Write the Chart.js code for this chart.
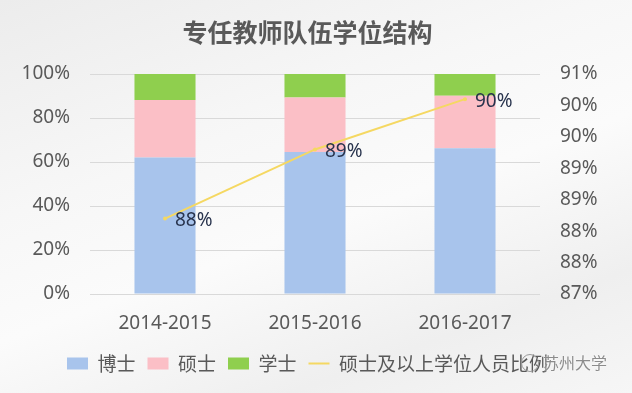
<!DOCTYPE html>
<html>
<head>
<meta charset="utf-8">
<script src="https://cdn.jsdelivr.net/npm/chart.js@4/dist/chart.umd.min.js"></script>
<style>
  html, body { margin: 0; padding: 0; }
  body {
    width: 632px; height: 393px; overflow: hidden; position: relative;
    background: linear-gradient(160deg, #ececec 0%, #f7f7f7 35%, #fbfbfb 55%, #efefef 80%, #f6f6f6 100%);
  }
  #wrap { position: absolute; left: 0; top: 0; width: 632px; height: 393px; }
  #wm {
    position: absolute; left: 521px; top: 351px; height: 22px;
    font-family: "Noto Sans CJK SC", sans-serif; font-size: 16px; line-height: 22px;
    color: #8c8c8c; text-shadow: 0 0 2px #fff; white-space: nowrap;
  }
  #wm .logo {
    display: inline-block; width: 16px; height: 16px; border: 1.5px solid #9a9a9a;
    border-radius: 50%; vertical-align: middle; margin-right: 4px; margin-top: -3px;
  }
</style>
</head>
<body>
<div id="wrap"><canvas id="c" width="632" height="393"></canvas></div>
<div id="wm"><span class="logo"></span>苏州大学</div>
<script>
const categories = ['2014-2015', '2015-2016', '2016-2017'];
const doctor   = [62.1, 64.6, 66.3];   // 博士
const master   = [26.1, 24.7, 23.8];   // 硕士
const bachelor = [11.8, 10.7, 9.9];    // 学士
const ratio    = [88.2, 89.3, 90.1];   // 硕士及以上学位人员比例
const leftTicks  = [0, 20, 40, 60, 80, 100];
const rightMin = 87, rightMax = 90.5, rightStep = 0.5;

const FONT = '"Noto Sans", "Noto Sans CJK SC", sans-serif';
const GREY = '#595959';

const lineLabels = {
  id: 'lineLabels',
  afterDatasetsDraw(chart) {
    const meta = chart.getDatasetMeta(3);
    const ctx = chart.ctx;
    ctx.save();
    ctx.font = '19px ' + FONT;
    ctx.fillStyle = '#28334d';
    ctx.textAlign = 'left';
    ctx.textBaseline = 'middle';
    meta.data.forEach((pt, i) => {
      ctx.fillText(Math.round(ratio[i]) + '%', pt.x + 10, pt.y + 2);
    });
    ctx.restore();
  }
};

new Chart(document.getElementById('c'), {
  data: {
    labels: categories,
    datasets: [
      { type: 'bar', label: '博士', data: doctor, backgroundColor: '#a8c4ec', borderWidth: 0, yAxisID: 'y' },
      { type: 'bar', label: '硕士', data: master, backgroundColor: '#fbbfc6', borderWidth: 0, yAxisID: 'y' },
      { type: 'bar', label: '学士', data: bachelor, backgroundColor: '#8fcf4e', borderWidth: 0, yAxisID: 'y' },
      { type: 'line', label: '硕士及以上学位人员比例', data: ratio, borderColor: '#f5d862',
        backgroundColor: '#f5d862', borderWidth: 2, pointRadius: 2, pointBorderWidth: 0,
        yAxisID: 'y1', order: -1, tension: 0 }
    ]
  },
  options: {
    responsive: false,
    animation: false,
    events: [],
    layout: { padding: { left: 0, right: 17, top: 0, bottom: 10 } },
    datasets: { bar: { categoryPercentage: 1, barPercentage: 0.407 } },
    scales: {
      x: {
        stacked: true,
        grid: { display: false, drawTicks: false },
        border: { display: false },
        ticks: { color: GREY, font: { family: FONT, size: 19 }, padding: 18 },
        afterFit(s) { s.height = 48; }
      },
      y: {
        stacked: true, min: 0, max: 100,
        afterBuildTicks(s) { s.ticks = leftTicks.map(v => ({ value: v })); },
        grid: { color: '#d9d9d9', drawTicks: false, lineWidth: 1 },
        border: { display: false },
        ticks: { color: GREY, font: { family: FONT, size: 19 }, padding: 20, callback: v => v + '%' },
        afterFit(s) { s.width = 90; }
      },
      y1: {
        position: 'right', min: rightMin, max: rightMax,
        ticks: { stepSize: rightStep, color: GREY, font: { family: FONT, size: 19 }, padding: 20,
                 callback: v => Math.round(v) + '%' },
        grid: { drawOnChartArea: false, drawTicks: false },
        border: { display: false },
        afterFit(s) { s.width = 75; }
      }
    },
    plugins: {
      title: {
        display: true, text: '专任教师队伍学位结构', color: GREY,
        font: { family: '"Noto Sans CJK SC", sans-serif', size: 25, weight: 'bold' },
        padding: { top: 17, bottom: 27 }
      },
      legend: {
        position: 'bottom',
        labels: {
          usePointStyle: true, pointStyleWidth: 21, boxHeight: 12, padding: 12,
          color: GREY, font: { family: '"Noto Sans CJK SC", sans-serif', size: 19 },
          sort: (a, b) => a.datasetIndex - b.datasetIndex,
          generateLabels(chart) {
            const items = Chart.defaults.plugins.legend.labels.generateLabels(chart);
            items.forEach(it => {
              if (it.datasetIndex === 3) { it.pointStyle = 'line'; it.lineWidth = 2; it.strokeStyle = '#f5d862'; }
              else { it.pointStyle = 'rect'; it.lineWidth = 0; }
            });
            return items;
          }
        }
      },
      tooltip: { enabled: false }
    }
  },
  plugins: [lineLabels]
});
</script>
</body>
</html>
